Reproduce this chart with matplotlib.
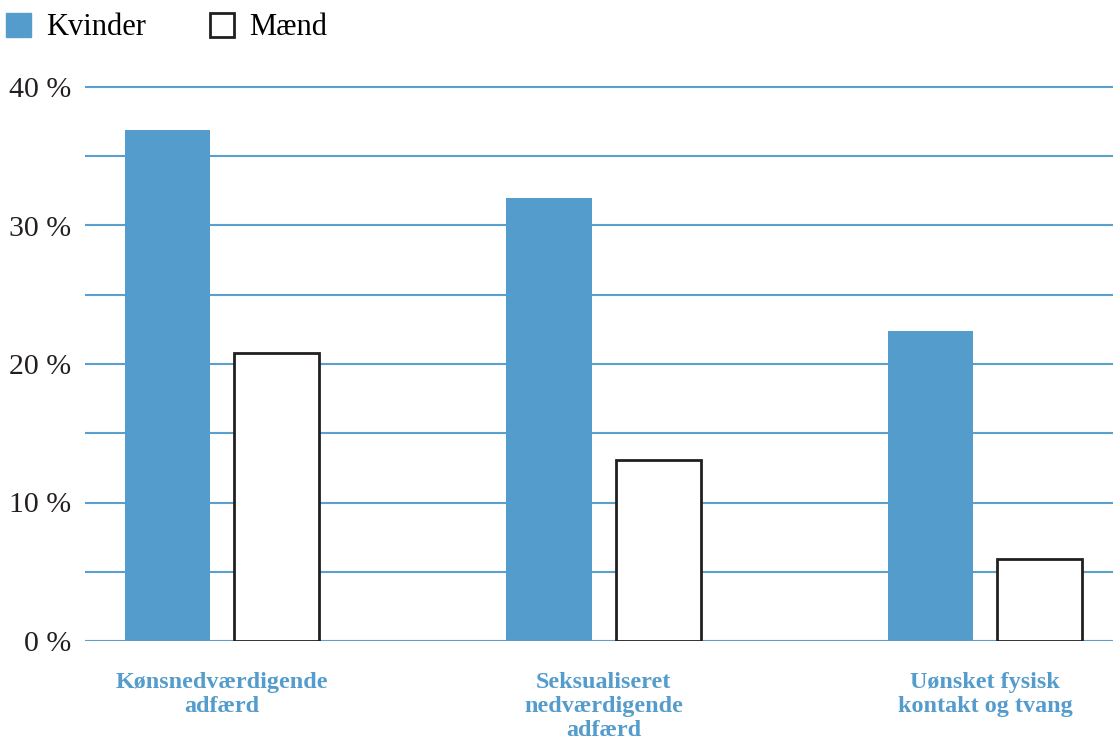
import matplotlib
matplotlib.use('Agg')
import matplotlib.pyplot as plt
from matplotlib.patches import Patch
import numpy as np

categories = ['Kønsnedværdigende\nadfærd', 'Seksualiseret\nnedværdigende\nadfærd', 'Uønsket fysisk\nkontakt og tvang']
kvinder = [36.9, 32.0, 22.4]
maend = [20.8, 13.1, 5.9]
yticks = [0, 10, 20, 30, 40]
ytick_labels = ['0 %', '10 %', '20 %', '30 %', '40 %']

blue = '#549ccb'
grid_blue = '#5b9fcd'
dark = '#231f20'

plt.rcParams['font.family'] = ['Liberation Serif', 'DejaVu Serif']

W, H = 1113, 740
fig = plt.figure(figsize=(W / 100, H / 100), dpi=100)
ymax = 41
px_per = (641 - 87) / 40
top_px = 641 - ymax * px_per
ax = fig.add_axes([85 / W, (H - 641) / H, 1 - 85 / W, (641 - top_px) / H])

x = np.arange(len(categories))
w = 0.2235
off = 0.143
for y in np.arange(0, 41, 5):
    ax.axhline(y, color=grid_blue, lw=1.5, zorder=0)
ax.bar(x - off, kvinder, w, color=blue, zorder=2)
ax.bar(x + off, maend, w, color='white', edgecolor=dark, linewidth=2, zorder=2)

ax.set_xlim(-0.359, 2.335)
ax.set_ylim(0, ymax)
ax.set_yticks(yticks)
ax.set_yticklabels(ytick_labels, fontsize=21.5, color=dark)
ax.set_xticks(x)
ax.set_xticklabels(categories, fontsize=17.4, fontweight='bold', color=blue,
                   linespacing=1.2, va='top')
ax.tick_params(axis='y', length=0, pad=10)
ax.tick_params(axis='x', length=0, pad=22)
for s in ax.spines.values():
    s.set_visible(False)

handles = [Patch(facecolor=blue, edgecolor=blue),
           Patch(facecolor='white', edgecolor=dark, linewidth=2)]
fig.legend(handles, ['Kvinder', 'Mænd'], loc='upper left', bbox_to_anchor=(-0.011, 1.007),
           ncol=2, frameon=False, fontsize=22, handlelength=0.8, handleheight=0.8,
           handletextpad=0.5, columnspacing=2.1, borderaxespad=0.2)

fig.savefig('out.png', dpi=100)
